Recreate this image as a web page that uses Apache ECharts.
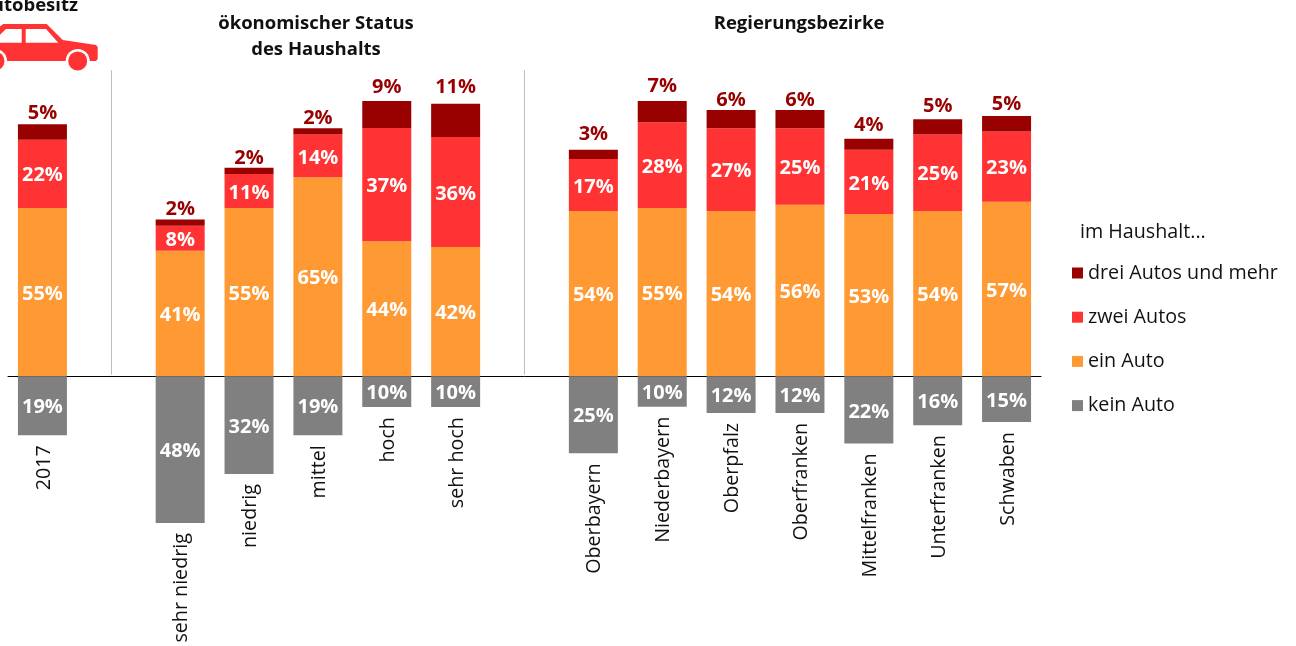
<!DOCTYPE html>
<html><head><meta charset="utf-8">
<script src="https://cdn.jsdelivr.net/npm/echarts@6/dist/echarts.min.js"></script>
<style>html,body{margin:0;padding:0;background:#fff}#c{width:1296px;height:646px}</style>
</head><body><div id="c"></div>
<script>
const FONT = '"Open Sans"';
const categories = ['2017','gap1','sehr niedrig','niedrig','mittel','hoch','sehr hoch','gap2','Oberbayern','Niederbayern','Oberpfalz','Oberfranken','Mittelfranken','Unterfranken','Schwaben'];
const keinAuto = [-19.3,null,-48,-32,-19.3,-10.1,-10.1,null,-25.2,-10,-12,-12,-22,-16,-15];
const einAuto  = [55,null,41,55,65,44.1,42.2,null,54,55,54,56,53,54,57];
const zweiAutos= [22.3,null,8.2,11.1,14,37,36,null,17,28,27,25,21,25,23];
const dreiAutos= [5,null,2,2,2,8.8,10.8,null,3,6.9,6,6,3.6,5,5];
const dreiLabelNudge = [1,0,2,2,2,-2,-5,0,-3,-3,2,2,-1,-1,0];
const seriesNames = ['drei Autos und mehr','zwei Autos','ein Auto','kein Auto'];
const colors = {drei:'#990000',zwei:'#ff3333',ein:'#ff9933',kein:'#808080'};
const titleStatus = 'ökonomischer Status\ndes Haushalts';
const titleRegion = 'Regierungsbezirke';
const titleMain = 'Autobesitz';
const legendTitle = 'im Haushalt...';

const pct = p => Math.abs(Math.round(p.value)) + '%';
const inner = {show:true,position:'inside',offset:[0,2],formatter:pct,color:'#fff',fontFamily:FONT,fontWeight:'bold',fontSize:20};
const barBase = {type:'bar',stack:'a',barWidth:49};

const chart = echarts.init(document.getElementById('c'));
chart.setOption({
  animation:false,
  backgroundColor:'#fff',
  grid:{left:8,width:1033,top:9,height:612},
  xAxis:{type:'category',data:categories,axisLine:{onZero:true,lineStyle:{color:'#000',width:1}},axisTick:{show:false},axisLabel:{show:false}},
  yAxis:{type:'value',min:-80,max:120,show:false,splitLine:{show:false}},
  legend:{orient:'vertical',left:1072,top:260,padding:0,itemWidth:11,itemHeight:11,itemGap:18.2,icon:'rect',data:seriesNames,
    textStyle:{fontFamily:FONT,fontSize:19.7,color:'#111',lineHeight:26},selectedMode:false},
  title:[
    {text:titleStatus,left:316,top:11,padding:0,textAlign:'center',textStyle:{fontFamily:FONT,fontSize:18.5,fontWeight:'bold',color:'#111',lineHeight:26}},
    {text:titleRegion,left:799,top:11,padding:0,textAlign:'center',textStyle:{fontFamily:FONT,fontSize:18.5,fontWeight:'bold',color:'#111',lineHeight:26}}
  ],
  graphic:[
    {type:'text',x:78,y:6,style:{text:titleMain,textAlign:'right',textVerticalAlign:'middle',font:'bold 18.5px '+FONT,fill:'#111'}},
    {type:'text',x:1080,y:232,style:{text:legendTitle,textAlign:'left',textVerticalAlign:'middle',font:'19.7px '+FONT,fill:'#111'}},
    {type:'polygon',shape:{points:[[3.3,24],[46.7,24],[62.7,40],[96,45],[97.7,47],[97.7,59],[96,61],[-17,61],[-17,40]]},style:{fill:colors.zwei}},
    {type:'circle',shape:{cx:77.7,cy:61,r:12},style:{fill:'#fff'}},
    {type:'circle',shape:{cx:-5,cy:61,r:12},style:{fill:'#fff'}},
    {type:'circle',shape:{cx:77.7,cy:61,r:9.5},style:{fill:colors.zwei}},
    {type:'circle',shape:{cx:-5,cy:61,r:9.5},style:{fill:colors.zwei}},
    {type:'polygon',shape:{points:[[25.7,29],[46,29],[58.3,42.7],[25.7,42.7]]},style:{fill:'#fff'}},
    {type:'polygon',shape:{points:[[6,29],[21.7,29],[21.7,42.7],[-8,42.7]]},style:{fill:'#fff'}}
  ],
  series:[
    Object.assign({},barBase,{name:seriesNames[2],data:einAuto,itemStyle:{color:colors.ein},label:inner}),
    Object.assign({},barBase,{name:seriesNames[1],data:zweiAutos,itemStyle:{color:colors.zwei},label:inner}),
    Object.assign({},barBase,{name:seriesNames[0],itemStyle:{color:colors.drei},
      data:dreiAutos.map((v,i)=>({value:v,label:{offset:[0,dreiLabelNudge[i]]}})),
      label:{show:true,position:'top',distance:2,formatter:pct,color:colors.drei,fontFamily:FONT,fontWeight:'bold',fontSize:20}}),
    Object.assign({},barBase,{name:seriesNames[3],data:keinAuto,itemStyle:{color:colors.kein},label:inner,
      markLine:{silent:true,symbol:'none',label:{show:false},lineStyle:{color:'#bfbfbf',width:1,type:'solid'},
        data:[[{xAxis:'gap1',yAxis:100},{xAxis:'gap1',yAxis:0.5}],[{xAxis:'gap2',yAxis:100},{xAxis:'gap2',yAxis:0.5}]]}}),
    {type:'custom',name:'labels',silent:true,data:categories.map((c,i)=>[i,keinAuto[i]]),
      encode:{x:0,y:1},
      renderItem:(params,api)=>{
        const i=api.value(0), v=api.value(1);
        if(isNaN(v)) return null;
        const p=api.coord([i,v]);
        return {type:'text',x:p[0]+1.5,y:p[1]+10,rotation:Math.PI/2,
          style:{text:categories[i],textAlign:'right',textVerticalAlign:'middle',font:'19.7px '+FONT,fill:'#111'}};
      }}
  ]
});
</script></body></html>
